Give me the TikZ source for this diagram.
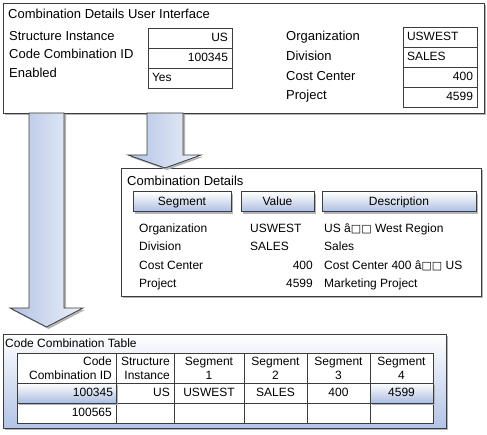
\documentclass[tikz,border=0pt]{standalone}
\usepackage{fontspec}
\setmainfont{Liberation Sans}
\newfontfamily\boxfont{DejaVu Sans}
\usepackage{xcolor}
\usepackage{tikz}
\usetikzlibrary{shapes}
\usetikzlibrary{shadows}
\definecolor{edge}{RGB}{60,60,60}
\definecolor{shadowgray}{RGB}{180,180,180}
\definecolor{arrowblue}{RGB}{178,194,228}
\definecolor{arrowlight}{RGB}{236,241,250}
\definecolor{btnblue}{RGB}{172,189,225}
\definecolor{tblblue}{RGB}{178,195,230}
\newcommand{\bigsize}{\fontsize{13}{15}\selectfont}
\newcommand{\smallsize}{\fontsize{12}{14}\selectfont}
\newcommand{\nog}{{\boxfont\fontsize{11}{11}\selectfont □□}}

\begin{document}
\begin{tikzpicture}[x=1pt, y=-1pt,
    txt/.style={anchor=west, inner sep=0pt, text height=9pt, text depth=2.5pt, font=\smallsize},
    bigtxt/.style={txt, font=\bigsize},
    rtxt/.style={txt, anchor=east},
    ctxt/.style={txt, anchor=center},
    headtxt/.style={inner sep=0pt, font=\smallsize},
    field/.style={draw=edge, fill=white, line width=0.8pt, minimum height=20pt, inner sep=0pt,
        text height=9pt, text depth=2.5pt, font=\smallsize},
    soft/.style={drop shadow={shadow xshift=2pt, shadow yshift=-2pt, fill=shadowgray, opacity=1}},
    button/.style={draw=edge, line width=1pt, top color=white, bottom color=btnblue, minimum height=20pt,
        inner sep=0pt, text height=9pt, text depth=2.5pt, font=\smallsize, soft},
    panel/.style={draw=edge, line width=0.8pt, fill=white, soft},
    bigarrow/.style={draw=edge, line width=0.8pt, left color=arrowblue, right color=arrowlight, soft}]
        \useasboundingbox (0,0) rectangle (487,435);

        \path[panel] (3,3) rectangle (484,113);
        \node[bigtxt] (ui-title) at (8,15) {Combination Details User Interface};
        \node[bigtxt] (si-label) at (9,37) {Structure Instance};
        \node[bigtxt] (ccid-label) at (9,55) {Code Combination ID};
        \node[bigtxt] (en-label) at (9,74) {Enabled};
        \node[field, minimum width=84pt, text width=76pt, align=right] (si-field) at (190,38) {US};
        \node[field, minimum width=84pt, text width=76pt, align=right] (ccid-field) at (190,58) {100345};
        \node[field, minimum width=84pt, text width=76pt, align=left] (en-field) at (190,78) {Yes};
        \node[bigtxt] (org-label) at (286,37) {Organization};
        \node[bigtxt] (div-label) at (286,57) {Division};
        \node[bigtxt] (cc-label) at (286,77) {Cost Center};
        \node[bigtxt] (prj-label) at (286,96) {Project};
        \node[field, minimum width=74pt, text width=66pt, align=left] (org-field) at (440,37) {USWEST};
        \node[field, minimum width=74pt, text width=66pt, align=left] (div-field) at (440,57) {SALES};
        \node[field, minimum width=74pt, text width=66pt, align=right] (cc-field) at (440,77) {400};
        \node[field, minimum width=74pt, text width=66pt, align=right] (prj-field) at (440,97) {4599};

        \path[bigarrow] (29,113) -- (29,308) -- (10,308) -- (46.5,327) -- (83,308) -- (64,308) -- (64,113) -- cycle;

        \path[panel] (121,168) rectangle (481,296);
        \path[bigarrow] (147,113) -- (147,155) -- (128,155) -- (165,168) -- (201,155) -- (183,155) -- (183,113) -- cycle;
        \node[bigtxt] (cd-title) at (127,182) {Combination Details};
        \node[button, minimum width=98pt] (seg-head) at (182,202) {Segment};
        \node[button, minimum width=73pt] (val-head) at (277.5,202) {Value};
        \node[button, minimum width=154pt] (desc-head) at (399,202) {Description};
        \node[txt] (org-seg) at (139,229) {Organization};
        \node[txt] (div-seg) at (139,247) {Division};
        \node[txt] (cc-seg) at (139,266) {Cost Center};
        \node[txt] (prj-seg) at (139,284) {Project};
        \node[txt] (org-val) at (250,229) {USWEST};
        \node[txt] (div-val) at (250,247) {SALES};
        \node[rtxt] (cc-val) at (313,266) {400};
        \node[rtxt] (prj-val) at (313,284) {4599};
        \node[txt] (org-desc) at (324,229) {US â\nog{} West Region};
        \node[txt] (div-desc) at (324,247) {Sales};
        \node[txt] (cc-desc) at (324,266) {Cost Center 400 â\nog{} US};
        \node[txt] (prj-desc) at (324,284) {Marketing Project};

        \path[panel, top color=white, bottom color=tblblue] (3,334) rectangle (446,428);
        \node[txt] (cct-title) at (5,344) {Code Combination Table};
        \draw[edge, fill=white, line width=0.8pt] (17,353) rectangle (433,423);
        \draw[edge, line width=0.8pt] (17,383) -- (433,383) (17,403) -- (433,403);
        \draw[edge, line width=0.8pt] (116,353) -- (116,423) (174,353) -- (174,423) (244,353) -- (244,423)
            (307,353) -- (307,423) (370,353) -- (370,423);
        \node[headtxt, anchor=east, align=right] (id-head) at (112,368) {Code\\Combination ID};
        \node[headtxt, anchor=east, align=right] (si-head) at (170,368) {Structure\\Instance};
        \node[headtxt, align=center] (s1-head) at (209,368) {Segment\\1};
        \node[headtxt, align=center] (s2-head) at (275.5,368) {Segment\\2};
        \node[headtxt, align=center] (s3-head) at (338.5,368) {Segment\\3};
        \node[headtxt, align=center] (s4-head) at (401.5,368) {Segment\\4};
        \node[button, minimum width=99pt, text width=93pt, align=right] (id-one) at (66.5,393) {100345};
        \node[rtxt] (si-one) at (170,393) {US};
        \node[ctxt] (s1-one) at (209,393) {USWEST};
        \node[ctxt] (s2-one) at (275.5,393) {SALES};
        \node[ctxt] (s3-one) at (338.5,393) {400};
        \node[button, minimum width=63pt] (s4-one) at (401.5,393) {4599};
        \node[rtxt] (id-two) at (112,413) {100565};
    \end{tikzpicture}
\end{document}
